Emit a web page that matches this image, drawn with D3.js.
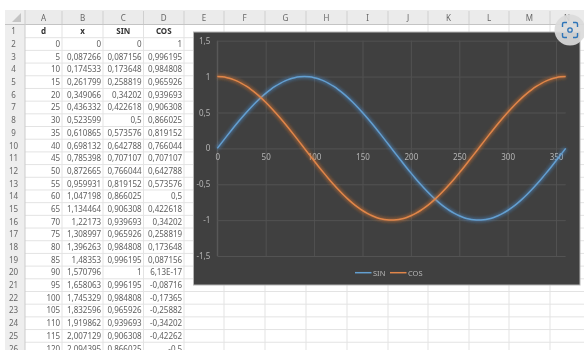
<!DOCTYPE html>
<html>
<head>
<meta charset="utf-8">
<title>SIN COS</title>
<script src="https://d3js.org/d3.v7.min.js"></script>
<style>
  html, body { margin: 0; padding: 0; background: #fff; overflow: hidden; }
  text { font-family: "Noto Sans", "Open Sans", sans-serif; }
</style>
</head>
<body>
<div id="viz"></div>
<script>
// chart data, one value every 5 degrees
var degrees = [0,5,10,15,20,25,30,35,40,45,50,55,60,65,70,75,80,85,90,95,100,105,110,115,120,125,130,135,140,145,150,155,160,165,170,175,180,185,190,195,200,205,210,215,220,225,230,235,240,245,250,255,260,265,270,275,280,285,290,295,300,305,310,315,320,325,330,335,340,345,350,355,360];
var sinValues = [0,0.087156,0.173648,0.258819,0.34202,0.422618,0.5,0.573576,0.642788,0.707107,0.766044,0.819152,0.866025,0.906308,0.939693,0.965926,0.984808,0.996195,1,0.996195,0.984808,0.965926,0.939693,0.906308,0.866025,0.819152,0.766044,0.707107,0.642788,0.573576,0.5,0.422618,0.34202,0.258819,0.173648,0.087156,0,-0.08716,-0.17365,-0.25882,-0.34202,-0.42262,-0.5,-0.57358,-0.64279,-0.70711,-0.76604,-0.81915,-0.86603,-0.90631,-0.93969,-0.96593,-0.98481,-0.9962,-1,-0.9962,-0.98481,-0.96593,-0.93969,-0.90631,-0.86603,-0.81915,-0.76604,-0.70711,-0.64279,-0.57358,-0.5,-0.42262,-0.34202,-0.25882,-0.17365,-0.08716,0];
var cosValues = [1,0.996195,0.984808,0.965926,0.939693,0.906308,0.866025,0.819152,0.766044,0.707107,0.642788,0.573576,0.5,0.422618,0.34202,0.258819,0.173648,0.087156,0,-0.08716,-0.17365,-0.25882,-0.34202,-0.42262,-0.5,-0.57358,-0.64279,-0.70711,-0.76604,-0.81915,-0.86603,-0.90631,-0.93969,-0.96593,-0.98481,-0.9962,-1,-0.9962,-0.98481,-0.96593,-0.93969,-0.90631,-0.86603,-0.81915,-0.76604,-0.70711,-0.64279,-0.57358,-0.5,-0.42262,-0.34202,-0.25882,-0.17365,-0.08716,0,0.087156,0.173648,0.258819,0.34202,0.422618,0.5,0.573576,0.642788,0.707107,0.766044,0.819152,0.866025,0.906308,0.939693,0.965926,0.984808,0.996195,1];
var xTicks = [0,50,100,150,200,250,300,350];
var yTicks = [-1.5,-1,-0.5,0,0.5,1,1.5];

// spreadsheet cells as shown
var columnNames = ["A","B","C","D","E","F","G","H","I","J","K","L","M","N"];
var columnHeads = ["d","x","SIN","COS"];
var cellsA = ["0","5","10","15","20","25","30","35","40","45","50","55","60","65","70","75","80","85","90","95","100","105","110","115","120"];
var cellsB = ["0","0,087266","0,174533","0,261799","0,349066","0,436332","0,523599","0,610865","0,698132","0,785398","0,872665","0,959931","1,047198","1,134464","1,22173","1,308997","1,396263","1,48353","1,570796","1,658063","1,745329","1,832596","1,919862","2,007129","2,094395"];
var cellsC = ["0","0,087156","0,173648","0,258819","0,34202","0,422618","0,5","0,573576","0,642788","0,707107","0,766044","0,819152","0,866025","0,906308","0,939693","0,965926","0,984808","0,996195","1","0,996195","0,984808","0,965926","0,939693","0,906308","0,866025"];
var cellsD = ["1","0,996195","0,984808","0,965926","0,939693","0,906308","0,866025","0,819152","0,766044","0,707107","0,642788","0,573576","0,5","0,422618","0,34202","0,258819","0,173648","0,087156","6,13E-17","-0,08716","-0,17365","-0,25882","-0,34202","-0,42262","-0,5"];

var W = 584, H = 350;
var svg = d3.select("#viz").append("svg")
    .attr("width", W)
    .attr("height", H)
    .style("display", "block");

var defs = svg.append("defs");

// the screenshot is slightly soft
defs.append("filter").attr("id", "soft")
    .attr("filterUnits", "userSpaceOnUse")
    .attr("x", 0).attr("y", 0).attr("width", W).attr("height", H)
  .append("feGaussianBlur").attr("stdDeviation", 0.4);

// excel's glow around the lines
defs.append("filter").attr("id", "glow")
    .attr("x", "-10%").attr("y", "-20%").attr("width", "120%").attr("height", "140%")
  .append("feGaussianBlur").attr("stdDeviation", 1.8);

var root = svg.append("g").attr("filter", "url(#soft)");

// ---- sheet grid ----
var colEdges = [25,62,103,143.5,184,224,265,306,347,388,428,469,509,550,584];
var rowTop = 25, rowH = 12.69;
var rowCount = 26;
var rowY = function(i) { return rowTop + rowH * i; };  // i = 0 is row 1

var grid = root.append("g").attr("stroke", "#e3e3e3").attr("stroke-width", 1);
grid.selectAll("line.v").data(colEdges.slice(1, -1)).enter().append("line")
    .attr("class", "v")
    .attr("x1", function(d) { return d; }).attr("x2", function(d) { return d; })
    .attr("y1", 24).attr("y2", H);
grid.selectAll("line.h").data(d3.range(1, rowCount + 1)).enter().append("line")
    .attr("class", "h")
    .attr("x1", 5).attr("x2", W)
    .attr("y1", function(d) { return rowY(d); }).attr("y2", function(d) { return rowY(d); });

// headers
root.append("rect").attr("x", 5).attr("y", 10).attr("width", W - 5).attr("height", 14.5).attr("fill", "#ebebeb");
root.append("rect").attr("x", 5).attr("y", 10).attr("width", 20).attr("height", H - 10).attr("fill", "#eeeeee");
root.append("line").attr("x1", 5).attr("x2", W).attr("y1", 24.5).attr("y2", 24.5).attr("stroke", "#c4c4c4");
root.append("line").attr("x1", 25).attr("x2", 25).attr("y1", 10).attr("y2", H).attr("stroke", "#cccccc");
root.append("path").attr("d", "M21,13 L21,22 L12,22 Z").attr("fill", "#c4c4c4");

root.selectAll("line.colsep").data(colEdges.slice(1, -1)).enter().append("line")
    .attr("class", "colsep")
    .attr("x1", function(d) { return d; }).attr("x2", function(d) { return d; })
    .attr("y1", 11).attr("y2", 24)
    .attr("stroke", "#cfcfcf");

root.selectAll("text.colname").data(columnNames).enter().append("text")
    .attr("class", "colname")
    .attr("x", function(d, i) { return (colEdges[i] + colEdges[i + 1]) / 2; })
    .attr("y", 20.5)
    .attr("text-anchor", "middle")
    .attr("font-size", 8).attr("fill", "#666")
    .text(function(d) { return d; });

root.selectAll("text.rowname").data(d3.range(1, rowCount + 1)).enter().append("text")
    .attr("class", "rowname")
    .attr("x", 13.5)
    .attr("y", function(d) { return rowY(d - 1) + 9.3; })
    .attr("text-anchor", "middle")
    .attr("font-size", 8).attr("fill", "#666")
    .text(function(d) { return d; });

// bold column titles in row 1
root.selectAll("text.head").data(columnHeads).enter().append("text")
    .attr("class", "head")
    .attr("x", function(d, i) { return (colEdges[i] + colEdges[i + 1]) / 2; })
    .attr("y", rowY(0) + 9.3)
    .attr("text-anchor", "middle")
    .attr("font-size", 8).attr("font-weight", "bold").attr("fill", "#333")
    .text(function(d) { return d; });

// numbers
[cellsA, cellsB, cellsC, cellsD].forEach(function(cells, c) {
  root.append("g").selectAll("text").data(cells).enter().append("text")
      .attr("x", colEdges[c + 1] - 1.8)
      .attr("y", function(d, i) { return rowY(i + 1) + 9.3; })
      .attr("text-anchor", "end")
      .attr("font-size", 8).attr("fill", "#606060")
      .text(function(d) { return d; });
});

// ---- chart panel ----
root.append("rect")
    .attr("x", 193.5).attr("y", 32)
    .attr("width", 386.5).attr("height", 253)
    .attr("fill", "#404040")
    .attr("stroke", "#b5b5b5").attr("stroke-width", 1);

var x = d3.scaleLinear().domain([0, 360]).range([217.3, 565.7]);
var y = d3.scaleLinear().domain([-1.5, 1.5]).range([256, 40.7]);
var decimal = function(d) { return String(d).replace(".", ","); };

// vertical gridlines
root.append("g")
    .attr("transform", "translate(0," + y(-1.5) + ")")
    .call(d3.axisBottom(x).tickValues(xTicks).tickSize(y(-1.5) - y(1.5)).tickSizeOuter(0).tickFormat(""))
    .call(function(g) {
      g.select(".domain").remove();
      g.selectAll("line").attr("stroke", "#525252").attr("y2", y(1.5) - y(-1.5));
    });

// horizontal gridlines + y labels
root.append("g")
    .attr("transform", "translate(" + x(0) + ",0)")
    .call(d3.axisLeft(y).tickValues(yTicks).tickSize(0).tickPadding(7).tickFormat(decimal))
    .call(function(g) {
      g.select(".domain").attr("stroke", "#5c5c5c").attr("d", "M0," + y(-1.5) + "V" + y(1.5));
      g.selectAll("text").attr("fill", "#b4b4b4").attr("font-size", 8).attr("font-family", null);
      g.selectAll(".tick").append("line")
          .attr("x1", 0).attr("x2", x(360) - x(0))
          .attr("stroke", "#525252");
    });

// x labels sit under the zero line
root.append("g")
    .attr("transform", "translate(0," + y(0) + ")")
    .call(d3.axisBottom(x).tickValues(xTicks).tickSize(0).tickPadding(6))
    .call(function(g) {
      g.select(".domain").remove();
      g.selectAll("text").attr("fill", "#b4b4b4").attr("font-size", 8).attr("font-family", null);
    });

var line = d3.line()
    .x(function(d, i) { return x(degrees[i]); })
    .y(function(d) { return y(d); })
    .curve(d3.curveMonotoneX);

var series = [
  {name: "SIN", values: sinValues, color: "#649fd0", glow: "#4a8fd0"},
  {name: "COS", values: cosValues, color: "#e0864a", glow: "#e0782c"}
];

series.forEach(function(s) {
  root.append("path")
      .attr("d", line(s.values))
      .attr("fill", "none")
      .attr("stroke", s.glow)
      .attr("stroke-width", 4.5)
      .attr("stroke-opacity", 0.45)
      .attr("filter", "url(#glow)");
  root.append("path")
      .attr("d", line(s.values))
      .attr("fill", "none")
      .attr("stroke", s.color)
      .attr("stroke-width", 1.5);
});

// legend
var legendX = [355, 390];
series.forEach(function(s, i) {
  root.append("line")
      .attr("x1", legendX[i]).attr("x2", legendX[i] + 16.5)
      .attr("y1", 272.7).attr("y2", 272.7)
      .attr("stroke", s.color).attr("stroke-width", 1.5);
  root.append("text")
      .attr("x", legendX[i] + 18).attr("y", 275.5)
      .attr("font-size", 7.5).attr("fill", "#b4b4b4")
      .text(s.name);
});

// ---- screenshot lens button in the corner ----
var lens = root.append("g").attr("transform", "translate(570,30)");
lens.append("circle").attr("r", 15.5).attr("fill", "#dadada").attr("fill-opacity", 0.92);
lens.append("path")
    .attr("d", "M-7.5,-3 V-6 Q-7.5,-7.5 -6,-7.5 H-3 M3,-7.5 H6 Q7.5,-7.5 7.5,-6 V-3 M7.5,3 V6 Q7.5,7.5 6,7.5 H3 M-3,7.5 H-6 Q-7.5,7.5 -7.5,6 V3")
    .attr("fill", "none").attr("stroke", "#2f74b8").attr("stroke-width", 1.4);
lens.append("circle").attr("r", 2.2).attr("fill", "none").attr("stroke", "#2f74b8").attr("stroke-width", 1.3);
</script>
</body>
</html>
